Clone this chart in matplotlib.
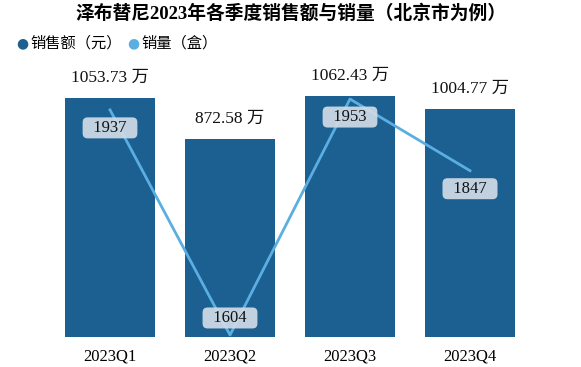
import numpy as np
import matplotlib.pyplot as plt

plt.rcParams['font.family'] = ['Liberation Serif', 'Noto Sans CJK SC']

# data
quarters = ['2023Q1', '2023Q2', '2023Q3', '2023Q4']
sales = [1053.73, 872.58, 1062.43, 1004.77]   # 万元
volume = [1937, 1604, 1953, 1847]             # 盒
vol_label_pos = ['below', 'above', 'below', 'below']

bar_color = '#1c5f91'
line_color = '#5aaee2'

fig = plt.figure(figsize=(5.81, 3.67), dpi=100)
ax = fig.add_axes([50 / 581, 30 / 367, 480 / 581, 267 / 367])
x = np.arange(len(quarters))

ax.bar(x, sales, width=0.75, color=bar_color, zorder=2)
ax.set_xlim(-0.5, 3.5)
ax.set_ylim(0, 267 / 0.2268)
for xi, v in zip(x, sales):
    ax.annotate(f'{v:.2f} 万', (xi, v), xytext=(0, 20), textcoords='offset pixels',
                ha='center', va='center', fontsize=12.5, color='#111111')

ax.set_xticks(x)
ax.set_xticklabels(quarters, fontsize=12)
ax.tick_params(axis='x', length=0, pad=8)
ax.set_yticks([])
for s in ax.spines.values():
    s.set_visible(False)

ax2 = ax.twinx()
ax2.plot(x, volume, color=line_color, lw=2, zorder=3)
ax2.set_ylim(1601, 1601 + 267 / 0.676)
ax2.set_yticks([])
for s in ax2.spines.values():
    s.set_visible(False)
for xi, v, pos in zip(x, volume, vol_label_pos):
    off = -18 if pos == 'below' else 17
    ax2.annotate(f'  {v}  ', (xi, v), xytext=(0, off), textcoords='offset pixels',
                 ha='center', va='center', fontsize=12, color='#111111',
                 bbox=dict(boxstyle='round,pad=0.15,rounding_size=0.3',
                           fc='#cfdbe6', ec='none', alpha=0.93))

fig.text(0.5, 1 - 13 / 367, '泽布替尼2023年各季度销售额与销量（北京市为例）',
         ha='center', va='center', fontsize=13.5, fontweight='bold',
         family=['Liberation Serif', 'Noto Sans CJK SC'])

# legend
fig.text(22 / 581, 1 - 43 / 367, '●', color=bar_color, fontsize=10, va='center', ha='center',
         family='DejaVu Sans')
fig.text(30 / 581, 1 - 43 / 367, '销售额（元）', fontsize=11, va='center', ha='left',
         family=['Noto Sans CJK SC'])
fig.text(133 / 581, 1 - 43 / 367, '●', color=line_color, fontsize=10, va='center', ha='center',
         family='DejaVu Sans')
fig.text(141 / 581, 1 - 43 / 367, '销量（盒）', fontsize=11, va='center', ha='left',
         family=['Noto Sans CJK SC'])

fig.savefig('out.png', dpi=100)
